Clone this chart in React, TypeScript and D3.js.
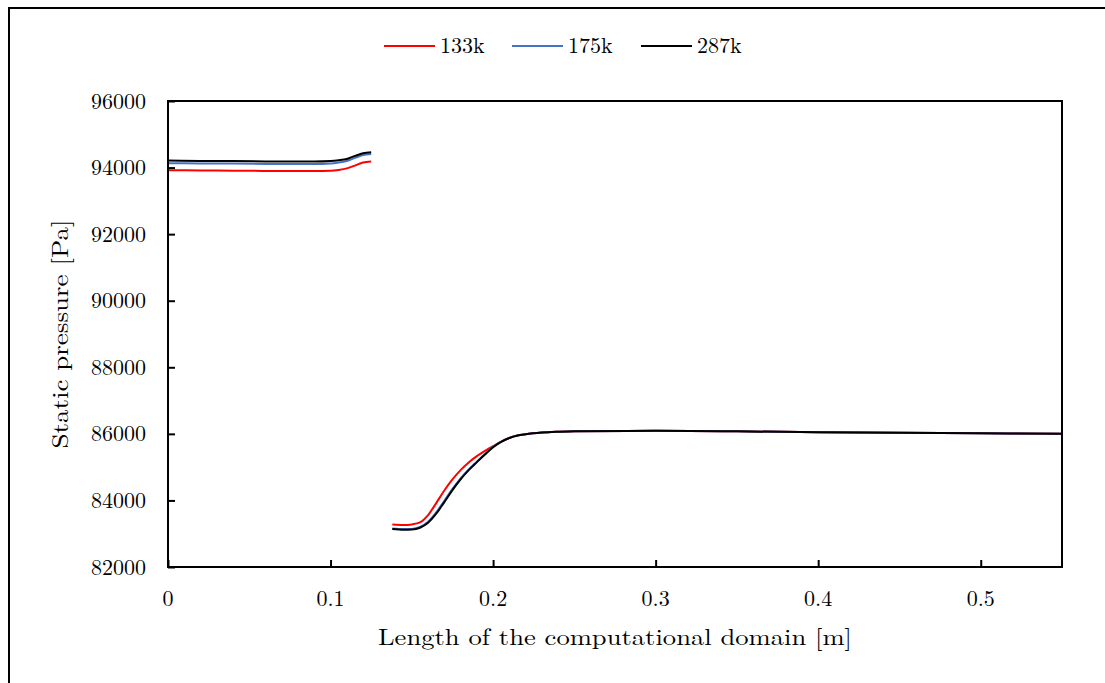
import { useEffect, useRef } from "react"
import * as d3 from "d3"

// x positions [m] of the sampled points
const upperX = [0, 0.02, 0.04, 0.06, 0.08, 0.09, 0.1, 0.105, 0.11, 0.115, 0.12, 0.125]
const lowerX = [
  0.138, 0.145, 0.15, 0.155, 0.16, 0.165, 0.17, 0.175, 0.18, 0.185, 0.19, 0.195, 0.2, 0.205, 0.21,
  0.215, 0.22, 0.23, 0.24, 0.25, 0.3, 0.35, 0.4, 0.45, 0.5, 0.55,
]

// static pressure [Pa]
const upper133 = [93920, 93915, 93905, 93900, 93895, 93895, 93905, 93930, 93975, 94060, 94150, 94185]
const upper175 = [94130, 94125, 94120, 94110, 94105, 94105, 94120, 94150, 94200, 94290, 94375, 94405]
const upper287 = [94210, 94200, 94195, 94185, 94180, 94180, 94195, 94220, 94260, 94350, 94430, 94460]

const tail = [85950, 85990, 86040, 86065, 86080, 86090, 86075, 86050, 86030, 86015, 86000]
const lower133 = [
  83275, 83262, 83280, 83340, 83560, 83920, 84300, 84630, 84910, 85140, 85330, 85490, 85630, 85765,
  85875, ...tail,
]
const lower175 = [
  83160, 83140, 83145, 83205, 83360, 83640, 83990, 84345, 84660, 84930, 85165, 85395, 85610, 85765,
  85880, ...tail,
]
const lower287 = [
  83140, 83118, 83125, 83180, 83330, 83600, 83950, 84310, 84635, 84910, 85150, 85380, 85600, 85760,
  85875, ...tail,
]

const seriesNames = ["133k", "175k", "287k"]
const seriesColors = ["#ff0000", "#4472c4", "#000000"]
const upperValues = [upper133, upper175, upper287]
const lowerValues = [lower133, lower175, lower287]

const xTicks = [0, 0.1, 0.2, 0.3, 0.4, 0.5]
const yTicks = [82000, 84000, 86000, 88000, 90000, 92000, 94000, 96000]

const FONT =
  "'Latin Modern Roman', 'CMU Serif', 'Liberation Serif', 'DejaVu Serif', 'Noto Serif', 'Times New Roman', Times, serif"

export default function App() {
  const svgRef = useRef<SVGSVGElement>(null)

  useEffect(() => {
    if (!svgRef.current) return
    const svg = d3.select(svgRef.current)
    svg.selectAll("*").remove()

    const left = 168
    const right = 1062
    const top = 101
    const bottom = 567

    const x = d3.scaleLinear().domain([0, 0.55]).range([left, right])
    const y = d3.scaleLinear().domain([82000, 96000]).range([bottom, top])

    // outer frame
    svg.append("rect")
      .attr("x", 9)
      .attr("y", 8)
      .attr("width", 1120)
      .attr("height", 720)
      .attr("fill", "#fff")
      .attr("stroke", "#000")
      .attr("stroke-width", 2)

    const line = d3
      .line<[number, number]>()
      .x((d) => x(d[0]))
      .y((d) => y(d[1]))
      .curve(d3.curveMonotoneX)

    const g = svg.append("g")
    seriesNames.forEach((name, i) => {
      const up = upperX.map((xv, j) => [xv, upperValues[i][j]] as [number, number])
      const lo = lowerX.map((xv, j) => [xv, lowerValues[i][j]] as [number, number])
      ;[up, lo].forEach((pts) => {
        g.append("path")
          .datum(pts)
          .attr("fill", "none")
          .attr("stroke", seriesColors[i])
          .attr("stroke-width", 2)
          .attr("d", line)
      })
    })

    // plot frame
    svg.append("rect")
      .attr("x", left)
      .attr("y", top)
      .attr("width", right - left)
      .attr("height", bottom - top)
      .attr("fill", "none")
      .attr("stroke", "#000")
      .attr("stroke-width", 2)

    // inward ticks
    svg.append("g")
      .attr("transform", `translate(0, ${bottom})`)
      .call(d3.axisBottom(x).tickValues(xTicks).tickSize(-7).tickFormat(() => ""))
      .call((a) => a.select(".domain").remove())
      .call((a) => a.selectAll("line").attr("stroke-width", 2))

    svg.append("g")
      .attr("transform", `translate(${left}, 0)`)
      .call(d3.axisLeft(y).tickValues(yTicks).tickSize(-7).tickFormat(() => ""))
      .call((a) => a.select(".domain").remove())
      .call((a) => a.selectAll("line").attr("stroke-width", 2))

    const txt = svg.append("g").style("font-family", FONT)

    // tick labels
    txt.append("g")
      .selectAll("text")
      .data(xTicks)
      .join("text")
      .attr("x", (d) => x(d))
      .attr("y", 606)
      .attr("text-anchor", "middle")
      .style("font-size", "22px")
      .text((d) => String(d))

    txt.append("g")
      .selectAll("text")
      .data(yTicks)
      .join("text")
      .attr("x", 146)
      .attr("y", (d) => y(d) + 7.5)
      .attr("text-anchor", "end")
      .style("font-size", "22px")
      .text((d) => String(d))

    // axis titles
    txt.append("text")
      .attr("x", 615)
      .attr("y", 645)
      .attr("text-anchor", "middle")
      .attr("textLength", 474)
      .attr("lengthAdjust", "spacingAndGlyphs")
      .style("font-size", "23px")
      .text("Length of the computational domain [m]")

    txt.append("text")
      .attr("transform", `translate(68, 334) rotate(-90)`)
      .attr("text-anchor", "middle")
      .attr("textLength", 229)
      .attr("lengthAdjust", "spacingAndGlyphs")
      .style("font-size", "23px")
      .text("Static pressure [Pa]")

    // legend
    const legendX = [384, 512, 641]
    seriesNames.forEach((name, i) => {
      const lg = txt.append("g").attr("transform", `translate(${legendX[i]}, 46)`)
      lg.append("line")
        .attr("x1", 0)
        .attr("x2", 51)
        .attr("stroke", seriesColors[i])
        .attr("stroke-width", 2)
      lg.append("text")
        .attr("x", 56)
        .attr("y", 7)
        .style("font-size", "22px")
        .text(name)
    })
  }, [])

  return (
    <svg
      ref={svgRef}
      width={1105}
      height={683}
      style={{ position: "fixed", left: 0, top: 0, background: "#fff" }}
    />
  )
}
